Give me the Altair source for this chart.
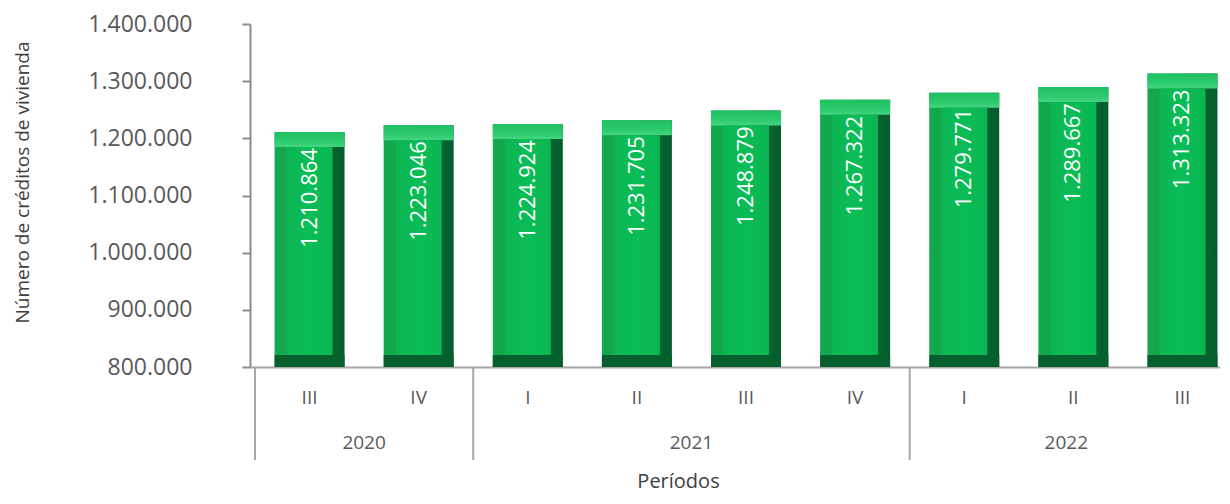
import altair as alt
import pandas as pd

# ---- data ----
quarters = ["III", "IV", "I", "II", "III", "IV", "I", "II", "III"]
years = ["2020", "2020", "2021", "2021", "2021", "2021", "2022", "2022", "2022"]
values = [1210864, 1223046, 1224924, 1231705, 1248879, 1267322, 1279771, 1289667, 1313323]
y_ticks = [800000, 900000, 1000000, 1100000, 1200000, 1300000, 1400000]

W, H = 970, 343
BAND = 110.25
XMAX = W / BAND          # visible part of the category axis (last band slightly cut)
FONT = "Open Sans"
GREY = "#595959"

bars = pd.DataFrame({
    "pos": [i + 0.5 for i in range(len(values))],
    "quarter": quarters,
    "year": years,
    "value": values,
    "label": [f"{v:,}".replace(",", ".") for v in values],
})

# year groups built from the years list
groups = []
start = 0
for i in range(1, len(years) + 1):
    if i == len(years) or years[i] != years[start]:
        groups.append((years[start], start, i))
        start = i
XVIS = (W + 8) / BAND
yg = pd.DataFrame({
    "year": [g[0] for g in groups],
    "center": [(g[1] + min(g[2], XVIS)) / 2 for g in groups],
})
seps = pd.DataFrame({"pos": [p for p in [g[1] for g in groups] + [groups[-1][2]] if p <= XMAX]})

xs = alt.Scale(domain=[0, XMAX], nice=False, zero=False)
ys = alt.Scale(domain=[y_ticks[0], y_ticks[-1]], nice=False, zero=False)

x_enc = alt.X(
    "pos:Q", scale=xs,
    axis=alt.Axis(labels=False, ticks=False, grid=False, domain=True,
                  domainColor="#a6a6a6", domainWidth=2,
                  title="Períodos", titleX=428, titleY=114,
                  titleBaseline="middle", titleAlign="center",
                  titleFont=FONT, titleFontSize=20, titleFontWeight="normal",
                  titleColor="#404040"),
)
y_enc = alt.Y(
    "value:Q", scale=ys,
    axis=alt.Axis(values=y_ticks, grid=False, domainColor="#8c8c8c", domainWidth=2,
                  tickColor="#8c8c8c", tickWidth=2, tickSize=8, labelPadding=50,
                  labelFont=FONT, labelFontSize=23, labelColor=GREY,
                  labelExpr="replace(format(datum.value, ','), /,/g, '.')",
                  title="Número de créditos de vivienda", titleX=-228, titleY=158,
                  titleAngle=270, titleAlign="center", titleBaseline="middle",
                  titleFont=FONT, titleFontSize=19, titleFontWeight="normal",
                  titleColor="#404040"),
)

base = alt.Chart(bars)

side_grad = alt.Gradient(
    gradient="linear", x1=0, x2=1, y1=0, y2=0,
    stops=[alt.GradientStop(color="#13a94d", offset=0),
           alt.GradientStop(color="#10a24a", offset=0.5),
           alt.GradientStop(color="#06733a", offset=0.5),
           alt.GradientStop(color="#045c2c", offset=1)],
)
side = base.mark_bar(width=70, color=side_grad).encode(
    x=x_enc, y=y_enc, y2=alt.datum(y_ticks[0])
)

top_grad = alt.Gradient(
    gradient="linear", x1=0, x2=0, y1=0, y2=1,
    stops=[alt.GradientStop(color="#1fc062", offset=0),
           alt.GradientStop(color="#2ac96c", offset=0.6),
           alt.GradientStop(color="#45d582", offset=1)],
)
top = base.mark_bar(width=70, color=top_grad, y2Offset=15).encode(
    x="pos:Q", y="value:Q", y2="value:Q"
)

bottom = base.mark_bar(width=70, color="#06602d", yOffset=-12).encode(
    x="pos:Q", y=alt.datum(y_ticks[0]), y2=alt.datum(y_ticks[0])
)

face_grad = alt.Gradient(
    gradient="linear", x1=0, x2=1, y1=0, y2=0,
    stops=[alt.GradientStop(color="#0db453", offset=0),
           alt.GradientStop(color="#0abd56", offset=0.5),
           alt.GradientStop(color="#0ab552", offset=1)],
)
face = base.mark_bar(width=46, color=face_grad, yOffset=15, y2Offset=-12).encode(
    x="pos:Q", y="value:Q", y2=alt.datum(y_ticks[0])
)

labels = base.mark_text(
    angle=270, align="right", baseline="middle", dx=-16,
    color="white", font=FONT, fontSize=22
).encode(x="pos:Q", y="value:Q", text="label:N")

q_labels = base.mark_text(
    font=FONT, fontSize=19, color=GREY, baseline="middle"
).encode(x="pos:Q", y=alt.value(H + 31), text="quarter:N")

y_labels = alt.Chart(yg).mark_text(
    font=FONT, fontSize=19, color=GREY, baseline="middle"
).encode(x="center:Q", y=alt.value(H + 76), text="year:N")

sep_rules = alt.Chart(seps).mark_rule(color="#a6a6a6", strokeWidth=2).encode(
    x="pos:Q", y=alt.value(H), y2=alt.value(H + 93)
)

chart = alt.layer(
    side, top, bottom, face, labels, q_labels, y_labels, sep_rules
).properties(
    width=W, height=H,
    autosize=alt.AutoSizeParams(type="none"),
    padding={"left": 242, "top": 16, "right": 0, "bottom": 129},
).configure_view(stroke=None)

chart.save("out.html", embed_options={"renderer": "svg", "actions": False})
